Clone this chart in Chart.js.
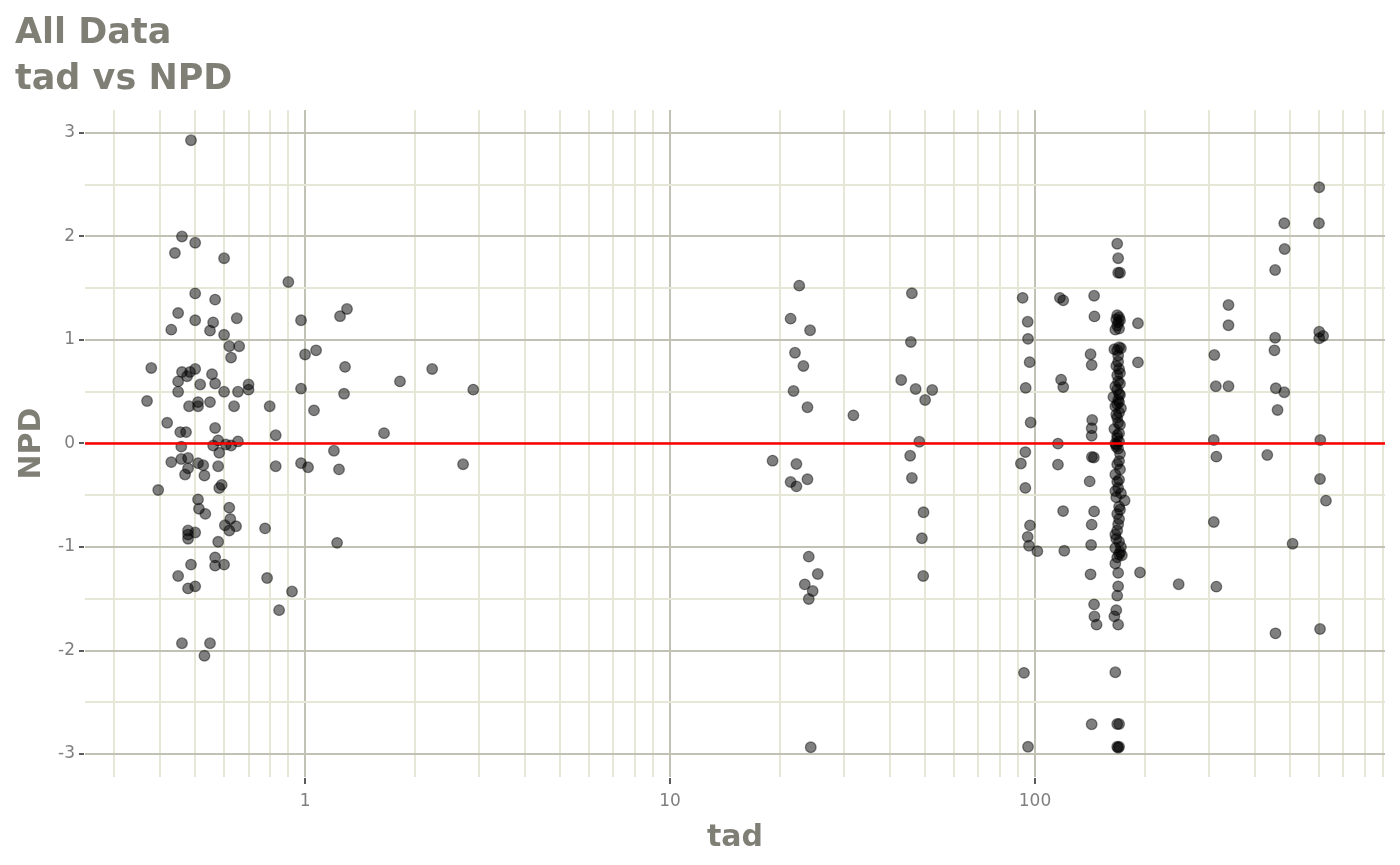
<!DOCTYPE html>
<html>
<head>
<meta charset="utf-8">
<script src="https://cdn.jsdelivr.net/npm/chart.js@4.4.0/dist/chart.umd.min.js"></script>
<style>
html,body{margin:0;padding:0;background:#ffffff;}
canvas{display:block;}
</style>
</head>
<body>
<canvas id="c" width="1400" height="865"></canvas>
<script>
// ---- data ----
const tadEarly = [0.487,0.46,0.50,0.44,0.60,0.90,0.50,0.567,0.449,0.65,
  0.50,0.56,0.43,0.549,0.60,0.62,0.66,0.627,0.379,0.46,
  0.484,0.50,0.475,0.556,0.449,0.516,0.567,0.70,0.70,0.449,
  0.60,0.655,0.509,0.549,0.369,0.481,0.509,0.639,0.419,0.455,
  0.472,0.567,0.458,0.56,0.578,0.607,0.627,0.655,0.582,0.43,
  0.458,0.478,0.509,0.526,0.578,0.478,0.469,0.53,0.582,0.591,
  0.396,0.509,0.512,0.62,0.533,0.624,0.603,0.647,0.62,0.777,
  0.478,0.478,0.50,0.478,0.578,0.567,0.487,0.60,0.567,0.449,
  0.787,0.50,0.478,0.921,0.849,0.46,0.549,0.53];
const npdEarly = [2.93,2.00,1.94,1.84,1.79,1.56,1.45,1.39,1.26,1.21,
  1.19,1.17,1.10,1.09,1.05,0.94,0.94,0.83,0.73,0.69,
  0.69,0.72,0.65,0.67,0.60,0.57,0.58,0.57,0.52,0.50,
  0.50,0.50,0.40,0.40,0.41,0.36,0.36,0.36,0.20,0.11,
  0.11,0.15,-0.03,-0.02,0.03,-0.01,-0.02,0.02,-0.09,-0.18,
  -0.15,-0.14,-0.19,-0.21,-0.22,-0.24,-0.30,-0.31,-0.43,-0.40,
  -0.45,-0.54,-0.63,-0.62,-0.68,-0.73,-0.79,-0.80,-0.84,-0.82,
  -0.84,-0.88,-0.86,-0.92,-0.95,-1.10,-1.17,-1.17,-1.18,-1.28,
  -1.30,-1.38,-1.40,-1.43,-1.61,-1.93,-1.93,-2.05];

const tadNearOne = [0.975,1.0,1.072,0.975,1.058,0.80,0.831,0.831,0.975,1.019,1.20,1.239,1.224,1.247,1.303,1.287,1.279,1.646,1.82,2.23,2.71,2.89];
const npdNearOne = [1.19,0.86,0.90,0.53,0.32,0.36,0.08,-0.22,-0.19,-0.23,-0.07,-0.25,-0.96,1.23,1.30,0.74,0.48,0.10,0.60,0.72,-0.20,0.52];

const tadDay1 = [22.6,21.4,24.2,22.0,23.2,21.8,23.8,31.8,19.1,22.2,21.4,22.2,23.8,24.0,25.4,23.4,24.6,24.0,24.3];
const npdDay1 = [1.525,1.206,1.094,0.877,0.749,0.507,0.350,0.272,-0.166,-0.198,-0.372,-0.414,-0.346,-1.093,-1.261,-1.361,-1.425,-1.502,-2.935];

const tadDay2 = [46.0,45.7,43.0,47.1,52.3,50.0,48.2,45.5,46.0,49.5,49.0,49.4];
const npdDay2 = [1.451,0.981,0.614,0.527,0.517,0.420,0.017,-0.118,-0.333,-0.665,-0.916,-1.280];

const tadDay4 = [92.5,117,119.5,145.2,95.5,145.5,95.7,96.7,142,143,
  117.9,119.5,94.3,97.3,143.5,143,143,115.6,94.1,91.5,
  115.6,143.2,145,141.2,94.1,119.4,145.2,96.9,143,95.5,
  96.3,101.5,120.3,142.5,142,194,247.6,145.2,145.5,147.5,
  93.3,143,95.7,191.5,191.5];
const npdDay4 = [1.407,1.407,1.383,1.428,1.176,1.228,1.011,0.786,0.862,0.758,
  0.617,0.545,0.537,0.203,0.227,0.148,0.075,-0.001,-0.083,-0.194,
  -0.204,-0.131,-0.135,-0.366,-0.429,-0.653,-0.656,-0.791,-0.784,-0.902,
  -0.988,-1.040,-1.036,-0.981,-1.264,-1.246,-1.360,-1.554,-1.671,-1.750,
  -2.216,-2.713,-2.930,1.161,0.784];

const tadWeek1 = [168,169,169,171, 168,170,167,171,168,170,166,
  170,165,168,172,169,169,170,168,169,171,164,168,170,169,168,172,170,168,169,165,170,168,170,167,169,
  167,170,171,166,168,169,166,172,176,170,168,170,168,166,170,166,170,173,171,166,169,169,168,167,165,169,166,168,170,168,169,170,
  167,171,166,170,167,171,168,166,171,168,170,167,171,169,167,172,168,169,166,171];
const npdWeek1 = [1.93,1.79,1.65,1.65, 1.24,1.22,1.20,1.19,1.14,1.11,1.10,
  0.93,0.91,0.90,0.92,0.85,0.79,0.72,0.66,0.60,0.58,0.45,0.52,0.48,0.42,0.38,0.34,0.30,0.25,0.20,0.14,0.10,0.05,0.02,-0.01,-0.05,
  -0.03,-0.17,-0.25,-0.30,-0.37,-0.43,-0.46,-0.48,-0.55,-0.61,-0.68,-0.73,-0.84,-0.88,-0.95,-1.01,-1.07,-1.08,-1.05,-1.16,-1.25,-1.38,-1.47,-1.61,-1.67,-1.75,-2.21,-2.71,-2.71,-2.93,-2.94,-2.93,
  0.75,0.68,0.55,0.40,0.28,0.18,0.08,0.00,-0.10,-0.20,-0.35,-0.52,-0.64,-0.78,-0.92,-1.00,-1.10,1.17,0.36,0.47];

const tadLate = [601,482,600,483,455,339,339,455,601,601,616,453,310,313,339,457,482,462,309,605,314,433,604,627,309,508,314,456,604];
const npdLate = [2.475,2.127,2.127,1.879,1.676,1.338,1.142,1.022,1.080,1.016,1.039,0.900,0.855,0.553,0.553,0.533,0.495,0.324,0.034,0.034,-0.127,-0.111,-0.343,-0.552,-0.758,-0.968,-1.383,-1.834,-1.792];

const refLineNPD = 0;
const xRange = [0.2495, 910];
const yRange = [-3.222, 3.222];
const xTickValues = [0.3,0.4,0.5,0.6,0.7,0.8,0.9,1,2,3,4,5,6,7,8,9,10,20,30,40,50,60,70,80,90,100,200,300,400,500,600,700,800,900];
const xLabelValues = [1,10,100];
const yTickValues = [-3,-2.5,-2,-1.5,-1,-0.5,0,0.5,1,1.5,2,2.5,3];
const yLabelValues = [-3,-2,-1,0,1,2,3];

// ---- styles ----
const FONT = 'DejaVu Sans';
const TEXT = '#7f7f7f';
const TITLE = '#7f7f76';
const MAJOR = '#c2c2b4';
const MINOR = '#e7e7d8';
const TICK = '#5a5a5a';

const tadAll = [].concat(tadEarly, tadNearOne, tadDay1, tadDay2, tadDay4, tadWeek1, tadLate);
const npdAll = [].concat(npdEarly, npdNearOne, npdDay1, npdDay2, npdDay4, npdWeek1, npdLate);
const points = tadAll.map((t, i) => ({x: t, y: npdAll[i]}));

const isDecade = v => Math.abs(Math.log10(v) - Math.round(Math.log10(v))) < 1e-9;

const axisTicks = {
  id: 'axisTicks',
  afterDraw(chart) {
    const {ctx, chartArea: a, scales: {x, y}} = chart;
    ctx.save();
    ctx.strokeStyle = TICK;
    ctx.lineWidth = 2;
    xLabelValues.forEach(v => {
      const px = Math.round(x.getPixelForValue(v));
      ctx.beginPath(); ctx.moveTo(px, a.bottom + 1); ctx.lineTo(px, a.bottom + 7); ctx.stroke();
    });
    yLabelValues.forEach(v => {
      const py = Math.round(y.getPixelForValue(v));
      ctx.beginPath(); ctx.moveTo(a.left - 6, py); ctx.lineTo(a.left - 1, py); ctx.stroke();
    });
    ctx.restore();
  }
};

new Chart(document.getElementById('c'), {
  data: {
    datasets: [
      {
        type: 'line',
        data: [{x: xRange[0], y: refLineNPD}, {x: xRange[1], y: refLineNPD}],
        borderColor: '#ff0000',
        borderWidth: 2.4,
        pointRadius: 0,
        order: 0
      },
      {
        type: 'scatter',
        data: points,
        backgroundColor: 'rgba(0,0,0,0.5)',
        borderColor: 'rgba(0,0,0,0.45)',
        borderWidth: 1.3,
        pointRadius: 5.3,
        order: 1
      }
    ]
  },
  options: {
    responsive: false,
    devicePixelRatio: 1,
    animation: false,
    events: [],
    layout: {padding: {left: 15, right: 15, top: 0, bottom: 0}},
    plugins: {
      legend: {display: false},
      tooltip: {enabled: false},
      title: {
        display: true,
        text: ['All Data', 'tad vs NPD'],
        align: 'start',
        color: TITLE,
        font: {family: FONT, size: 35, weight: 'bold', lineHeight: 1.314},
        padding: {top: 11, bottom: 7}
      }
    },
    scales: {
      x: {
        type: 'logarithmic',
        min: xRange[0],
        max: xRange[1],
        afterBuildTicks: s => { s.ticks = xTickValues.map(v => ({value: v})); },
        afterFit: s => { s.height = 88; },
        border: {display: false},
        grid: {
          drawTicks: false,
          lineWidth: 2,
          color: c => (c.tick && isDecade(c.tick.value)) ? MAJOR : MINOR
        },
        ticks: {
          autoSkip: false,
          maxRotation: 0,
          padding: 14,
          color: TEXT,
          font: {family: FONT, size: 17},
          callback: v => xLabelValues.includes(v) ? String(v) : ''
        },
        title: {
          display: true,
          text: 'tad',
          color: TITLE,
          font: {family: FONT, size: 30, weight: 'bold', lineHeight: 1},
          padding: {top: 0, bottom: 12}
        }
      },
      y: {
        type: 'linear',
        min: yRange[0],
        max: yRange[1],
        afterBuildTicks: s => { s.ticks = yTickValues.map(v => ({value: v})); },
        afterFit: s => { s.width = 70; },
        border: {display: false},
        grid: {
          drawTicks: false,
          lineWidth: 2,
          color: c => (c.tick && Number.isInteger(c.tick.value)) ? MAJOR : MINOR
        },
        ticks: {
          padding: 10,
          color: TEXT,
          font: {family: FONT, size: 17},
          callback: v => Number.isInteger(v) ? String(v) : ''
        },
        title: {
          display: true,
          text: 'NPD',
          color: TITLE,
          font: {family: FONT, size: 30, weight: 'bold', lineHeight: 1},
          padding: {top: 2, bottom: 0}
        }
      }
    }
  },
  plugins: [axisTicks]
});
</script>
</body>
</html>
